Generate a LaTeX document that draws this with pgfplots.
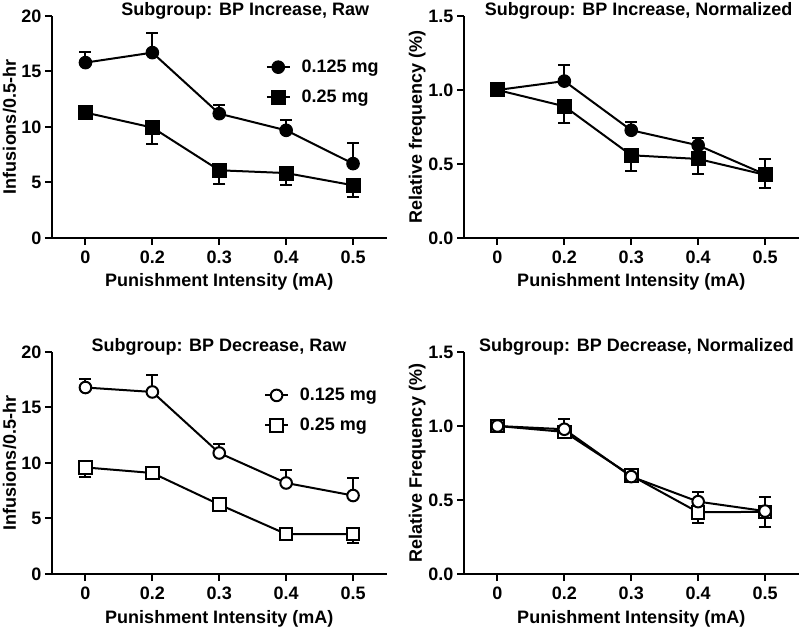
\documentclass[border=0pt]{standalone}
\usepackage{fontspec}
\setmainfont{Liberation Sans}
\usepackage{pgfplots}
\usepackage{pgfplotstable}
\pgfplotsset{compat=1.18}
\newcommand\F{\fontsize{18bp}{21bp}\selectfont\bfseries}

% x = category index (0:0, 1:0.2, 2:0.3, 3:0.4, 4:0.5), y = mean, e = error
\pgfplotstableread{
x y e
0 15.8 0.95
1 16.7 1.8
2 11.2 0.8
3 9.7 0.9
4 6.7 1.9
}\TLlow
\pgfplotstableread{
x y e
0 11.3 0.4
1 9.95 1.45
2 6.1 1.2
3 5.85 1.1
4 4.75 1.05
}\TLhigh
\pgfplotstableread{
x y e
0 1.0 0.0
1 1.06 0.11
2 0.728 0.056
3 0.626 0.051
4 0.43 0.105
}\TRlow
\pgfplotstableread{
x y e
0 1.0 0.0
1 0.89 0.11
2 0.559 0.106
3 0.534 0.1
4 0.427 0.09
}\TRhigh
\pgfplotstableread{
x y e
0 16.8 0.8
1 16.4 1.5
2 10.9 0.85
3 8.2 1.15
4 7.07 1.6
}\BLlow
\pgfplotstableread{
x y e
0 9.6 0.85
1 9.1 0.3
2 6.26 0.3
3 3.6 0.3
4 3.6 0.83
}\BLhigh
\pgfplotstableread{
x y e
0 1.0 0.0
1 0.978 0.067
2 0.658 0.03
3 0.489 0.063
4 0.425 0.093
}\BRlow
\pgfplotstableread{
x y e
0 1.0 0.0
1 0.96 0.02
2 0.665 0.02
3 0.417 0.074
4 0.42 0.1
}\BRhigh

\pgfplotsset{
 panel/.style={
  scale only axis, width=334.5bp, height=222bp,
  xmin=-0.5, xmax=4.5,
  axis x line*=bottom, axis y line*=left,
  axis line style={line width=2bp, black},
  tick align=outside, major tick length=7bp,
  major tick style={line width=2bp, black},
  xtick={0,1,2,3,4}, xticklabels={0,0.2,0.3,0.4,0.5},
  tick label style={font=\F},
  xticklabel style={anchor=base, yshift=-18.6bp},
  label style={font=\F},
  title style={font=\F},
  xlabel={Punishment Intensity (mA)},
  xlabel style={at={(axis description cs:0.5,0)}, anchor=base, yshift=-49bp},
  clip=false,
  legend style={draw=none, fill=none, font=\F, anchor=north west, row sep=12bp,
    /tikz/every odd column/.append style={column sep=9bp}},
  legend cell align=left,
  legend image code/.code={\draw[mark repeat=2,mark phase=2,##1] plot coordinates {(0cm,0cm) (0.4cm,0cm) (0.8cm,0cm)};},
 },
 rawaxis/.style={ymin=0, ymax=20, ytick={0,5,10,15,20}, yticklabels={0,5,10,15,20},
   ylabel={Infusions/0.5-hr}, ylabel style={at={(axis description cs:-0.127,0.5)}, anchor=center}},
 normaxis/.style={ymin=0, ymax=1.5, ytick={0,0.5,1,1.5}, yticklabels={0.0,0.5,1.0,1.5},
   ylabel style={at={(axis description cs:-0.14,0.5)}, anchor=center}},
 sUp/.style={black, line width=2bp,
   error bars/.cd, y dir=plus, y explicit,
   error bar style={line width=2bp, black},
   error mark options={rotate=90, mark size=6bp, line width=2bp, black}},
 sDn/.style={black, line width=2bp,
   error bars/.cd, y dir=minus, y explicit,
   error bar style={line width=2bp, black},
   error mark options={rotate=90, mark size=6bp, line width=2bp, black}},
 fcirc/.style={mark=*, mark size=6.3bp, mark options={solid, fill=black, draw=black, line width=1bp}},
 fsq/.style={mark=square*, mark size=7bp, mark options={solid, fill=black, draw=black, line width=1bp}},
 ocirc/.style={mark=*, mark size=5.8bp, mark options={solid, fill=white, draw=black, line width=2bp}},
 osq/.style={mark=square*, mark size=6.3bp, mark options={solid, fill=white, draw=black, line width=2bp}},
}

\begin{document}
\begin{tikzpicture}
\useasboundingbox (0,0) rectangle (800bp,628bp);

% Top left
\begin{axis}[panel, rawaxis, at={(52bp,390bp)}, anchor=south west,
  title={Subgroup: BP Increase, Raw},
  title style={at={(axis description cs:0.578,1)}, anchor=base, yshift=-5bp},
  legend style={at={(axis description cs:0.63,0.82)}}]
\addplot[fcirc, sUp] table[x=x, y=y, y error=e] {\TLlow};
\addlegendentry{0.125 mg}
\addplot[fsq, sDn] table[x=x, y=y, y error=e] {\TLhigh};
\addlegendentry{0.25 mg}
\end{axis}

% Top right
\begin{axis}[panel, normaxis, at={(464bp,390bp)}, anchor=south west,
  ylabel={Relative frequency (\%)},
  title={Subgroup: BP Increase, Normalized},
  title style={at={(axis description cs:0.522,1)}, anchor=base, yshift=-5bp}]
\addplot[fcirc, sUp] table[x=x, y=y, y error=e] {\TRlow};
\addplot[fsq, sDn] table[x=x, y=y, y error=e] {\TRhigh};
\end{axis}

% Bottom left
\begin{axis}[panel, rawaxis, at={(52bp,54bp)}, anchor=south west,
  title={Subgroup: BP Decrease, Raw},
  title style={at={(axis description cs:0.499,1)}, anchor=base, yshift=-5bp},
  legend style={at={(axis description cs:0.625,0.855)}}]
\addplot[ocirc, sUp] table[x=x, y=y, y error=e] {\BLlow};
\addlegendentry{0.125 mg}
\addplot[osq, sDn] table[x=x, y=y, y error=e] {\BLhigh};
\addlegendentry{0.25 mg}
\end{axis}

% Bottom right
\begin{axis}[panel, normaxis, at={(464bp,54bp)}, anchor=south west,
  ylabel={Relative Frequency (\%)},
  title={Subgroup: BP Decrease, Normalized},
  title style={at={(axis description cs:0.516,1)}, anchor=base, yshift=-5bp}]
\addplot[osq, sDn] table[x=x, y=y, y error=e] {\BRhigh};
\addplot[ocirc, sUp] table[x=x, y=y, y error=e] {\BRlow};
\end{axis}
\end{tikzpicture}
\end{document}
